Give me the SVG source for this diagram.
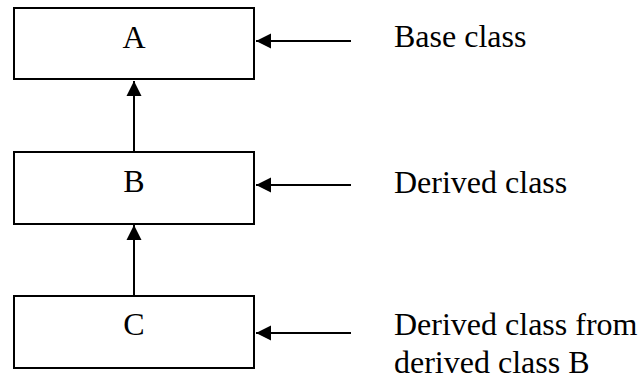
<svg xmlns="http://www.w3.org/2000/svg" width="642" height="379" viewBox="0 0 642 379">
<style>
.box{fill:#fff;stroke:#000;stroke-width:2}
.lbl{font-family:"Liberation Serif","Times New Roman",serif;font-size:32px;fill:#000}
.edge{stroke:#000;stroke-width:2;fill:none}
</style>
<defs>
<marker id="ah" markerUnits="userSpaceOnUse" markerWidth="17" markerHeight="17" viewBox="0 0 17 17" refX="16" refY="8.5" orient="auto">
<path d="M1,1 L16,8.5 L1,16 Z" fill="#000"/>
</marker>
</defs>
<rect width="642" height="379" fill="#fff"/>
<g id="A"><rect class="box" x="14" y="8" width="240" height="71"/><text class="lbl" x="134" y="48" text-anchor="middle">A</text></g>
<g id="B"><rect class="box" x="14" y="152" width="240" height="72"/><text class="lbl" x="134" y="192" text-anchor="middle">B</text></g>
<g id="C"><rect class="box" x="14" y="296" width="240" height="72"/><text class="lbl" x="134" y="335" text-anchor="middle">C</text></g>
<g id="labels">
<text class="lbl" x="394" y="47">Base class</text>
<text class="lbl" x="394" y="193">Derived class</text>
<text class="lbl" x="394" y="335">Derived class from</text>
<text class="lbl" x="394" y="373">derived class B</text>
</g>
<g id="connectors">
<line class="edge" x1="134" y1="152" x2="134" y2="81" marker-end="url(#ah)"/>
<line class="edge" x1="134" y1="296" x2="134" y2="225" marker-end="url(#ah)"/>
<line class="edge" x1="351" y1="41" x2="256" y2="41" marker-end="url(#ah)"/>
<line class="edge" x1="351" y1="185" x2="256" y2="185" marker-end="url(#ah)"/>
<line class="edge" x1="351" y1="333" x2="256" y2="333" marker-end="url(#ah)"/>
</g>
</svg>
